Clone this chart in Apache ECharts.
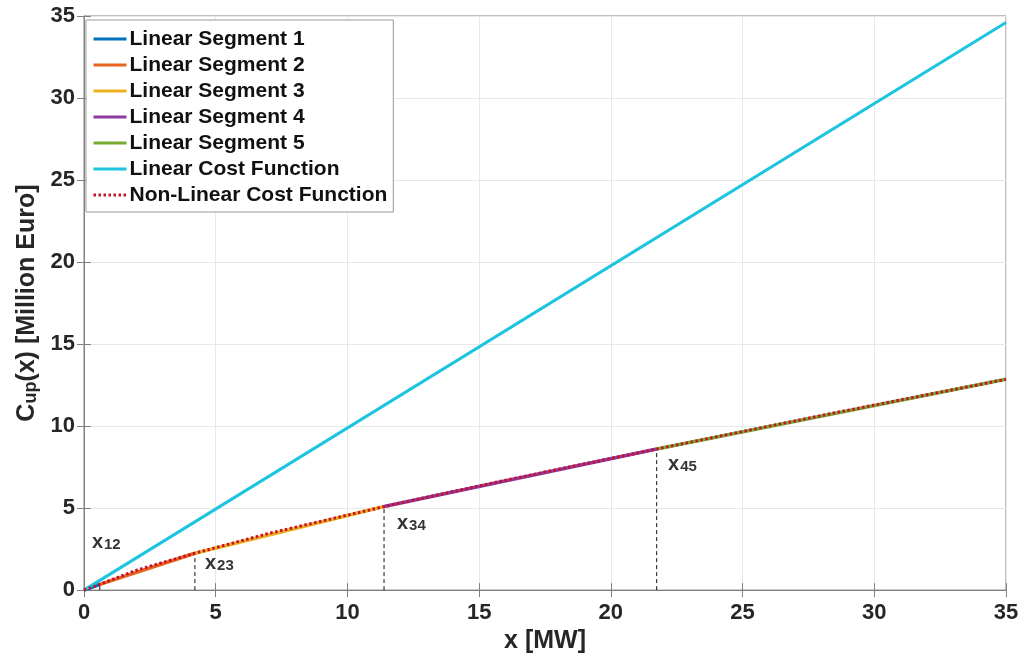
<!DOCTYPE html>
<html><head><meta charset="utf-8">
<script src="https://cdn.jsdelivr.net/npm/echarts@6/dist/echarts.min.js"></script>
<style>html,body{margin:0;padding:0;background:#fff}#c{width:1023px;height:659px}</style>
</head><body><div id="c"></div>
<script>
// Breakpoints of the piecewise-linear approximation
const breakX = [0, 0.6, 4.21, 11.39, 21.74, 35];
const breakY = [0, 0.35, 2.25, 5.09, 8.6, 12.85];
const segmentNames = ['Linear Segment 1','Linear Segment 2','Linear Segment 3','Linear Segment 4','Linear Segment 5'];
// Linear cost function endpoints
const linearX = [0, 35];
const linearY = [0, 34.6];
// Non-linear cost function points
const nonLinX = [0, 0.6, 2.0, 4.21, 7.0, 11.39, 16.0, 21.74, 28.0, 35];
const nonLinY = [0, 0.35, 1.22, 2.25, 3.45, 5.09, 6.7, 8.6, 10.65, 12.85];
// Dashed markers (indices into breakpoints)
const markerIdx = [1, 2, 3, 4];
// Annotation labels
const annX = [0.3, 4.59, 11.88, 22.17];
const annY = [3.26, 1.99, 4.41, 8.03];
const annSub = ['12', '23', '34', '45'];

const segColors = ['#0072BD', '#E8641E', '#EDB120', '#8E3A9E', '#77AC30'];
const font = 'Liberation Sans, Arial, Helvetica, sans-serif';
const txt = '#262626';

const series = [];
segmentNames.forEach((n, i) => {
  series.push({
    name: n, type: 'line', symbol: 'none', silent: true, z: 3,
    lineStyle: { color: segColors[i], width: 3.6 },
    itemStyle: { color: segColors[i] },
    data: [[breakX[i], breakY[i]], [breakX[i + 1], breakY[i + 1]]]
  });
});
series.push({
  name: 'Linear Cost Function', type: 'line', symbol: 'none', z: 3,
  lineStyle: { color: '#1CC4E0', width: 3 }, itemStyle: { color: '#1CC4E0' },
  data: linearX.map((x, i) => [x, linearY[i]])
});
series.push({
  name: 'Non-Linear Cost Function', type: 'line', symbol: 'none', z: 4,
  lineStyle: { color: '#C8102E', width: 3, type: [2.5, 2.5] }, itemStyle: { color: '#C8102E' },
  data: nonLinX.map((x, i) => [x, nonLinY[i]])
});
markerIdx.forEach(k => {
  series.push({
    type: 'line', symbol: 'none', z: 2, silent: true,
    lineStyle: { color: '#111', width: 1, type: [4, 3] },
    data: [[breakX[k], 0], [breakX[k], breakY[k]]]
  });
});
series.push({
  type: 'scatter', symbolSize: 0, silent: true, z: 5,
  data: annX.map((x, i) => [x, annY[i], annSub[i]]),
  label: {
    show: true, position: [0, 0], align: 'left', verticalAlign: 'middle',
    formatter: p => '{x|x}{s|' + p.data[2] + '}',
    rich: {
      x: { fontSize: 20, fontWeight: 'bold', color: '#000', fontFamily: font, verticalAlign: 'bottom' },
      s: { fontSize: 15, fontWeight: 'bold', color: '#000', fontFamily: font, padding: [17, 0, 0, 1], verticalAlign: 'bottom' }
    }
  }
});

const axisCommon = {
  type: 'value', min: 0, max: 35, interval: 5,
  axisLine: { show: true, lineStyle: { color: '#808080', width: 1 } },
  axisTick: { show: true, inside: true, length: 7, lineStyle: { color: '#808080' } },
};

const chart = echarts.init(document.getElementById('c'));
chart.setOption({
  backgroundColor: '#fff',
  animation: false,
  grid: { left: 84, right: 17, top: 16, bottom: 63, show: true, borderColor: '#808080', borderWidth: 1, containLabel: false },
  legend: {
    left: 86, top: 20, orient: 'vertical',
    data: segmentNames.concat(['Linear Cost Function', 'Non-Linear Cost Function']),
    backgroundColor: '#fff', borderColor: '#9a9a9a', borderWidth: 1,
    padding: [8, 6, 6, 6], itemWidth: 33, itemHeight: 22, itemGap: 4,
    itemStyle: { opacity: 0 },
    lineStyle: { width: 3 },
    textStyle: { fontSize: 21, fontWeight: 'bold', color: '#111', fontFamily: font, lineHeight: 22, padding: [0, 0, 0, -2] },
    selectedMode: false
  },
  xAxis: [
    Object.assign({}, axisCommon, {
      name: 'x [MW]', nameLocation: 'middle', nameGap: 37,
      nameTextStyle: { fontSize: 25, fontWeight: 'bold', color: txt, fontFamily: font },
      axisLabel: { fontSize: 22, fontWeight: 'bold', color: txt, fontFamily: font, margin: 12 },
      splitLine: { show: true, lineStyle: { color: '#e8e8e8', width: 1 } }
    }),
    Object.assign({}, axisCommon, { position: 'top', axisLabel: { show: false }, splitLine: { show: false } })
  ],
  yAxis: [
    Object.assign({}, axisCommon, {
      name: '{c|C}{s|up}{c|(x) [Million Euro]}', nameLocation: 'middle', nameGap: 44,
      nameTextStyle: { fontSize: 25, fontWeight: 'bold', color: txt, fontFamily: font,
        rich: {
          c: { fontSize: 25, fontWeight: 'bold', color: txt, fontFamily: font, verticalAlign: 'bottom' },
          s: { fontSize: 18, fontWeight: 'bold', color: txt, fontFamily: font, padding: [12, 0, 0, 0], verticalAlign: 'bottom' }
        } },
      axisLabel: { fontSize: 22, fontWeight: 'bold', color: txt, fontFamily: font, margin: 9 },
      splitLine: { show: true, lineStyle: { color: '#e8e8e8', width: 1 } }
    }),
    Object.assign({}, axisCommon, { position: 'right', axisLabel: { show: false }, splitLine: { show: false } })
  ],
  series: series
});
</script></body></html>
